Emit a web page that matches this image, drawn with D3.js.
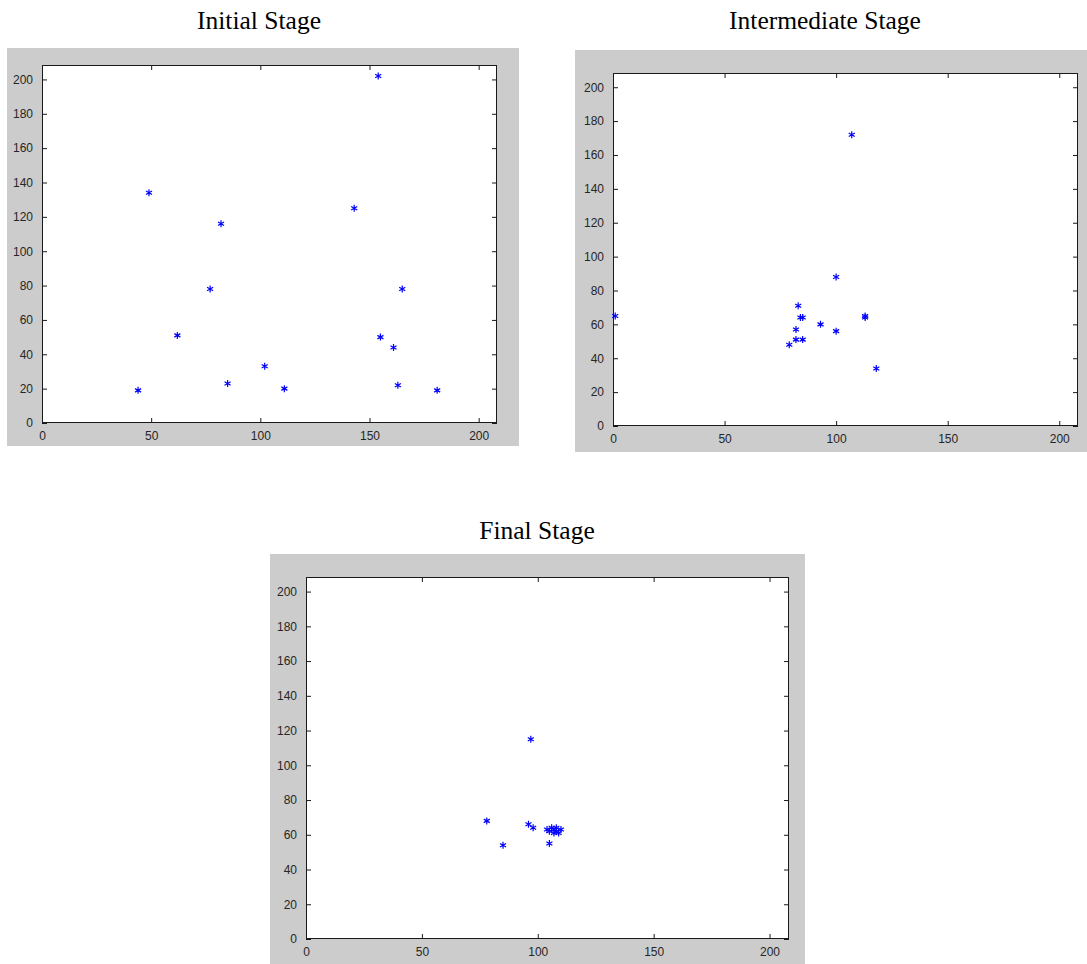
<!DOCTYPE html>
<html>
<head>
<meta charset="utf-8">
<script src="https://cdn.jsdelivr.net/npm/d3@7"></script>
<style>
  html, body { margin: 0; padding: 0; background: #ffffff; }
  svg { display: block; }
</style>
</head>
<body>
<svg id="chart" width="1087" height="964"></svg>
<script>
// Particle positions at three stages of the swarm
const initialX = [44, 49, 62, 77, 82, 85, 102, 111, 143, 154, 155, 161, 165, 163, 181];
const initialY = [19, 134, 51, 78, 116, 23, 33, 20, 125, 202, 50, 44, 78, 22, 19];

const intermediateX = [1, 83, 84, 85, 82, 82, 85, 79, 93, 107, 100, 113, 113, 100, 118];
const intermediateY = [65, 71, 64, 64, 57, 51, 51, 48, 60, 172, 88, 64, 65, 56, 34];

const finalX = [97, 78, 85, 96, 98, 104, 105, 106, 107, 107, 108, 108, 109, 110, 105];
const finalY = [115, 68, 54, 66, 64, 63, 62, 64, 63, 61, 64, 62, 61, 63, 55];

const titles = ["Initial Stage", "Intermediate Stage", "Final Stage"];
const xTicks = [0, 50, 100, 150, 200];
const yTicks = [0, 20, 40, 60, 80, 100, 120, 140, 160, 180, 200];
const axisMax = 208.4;

const panels = [
  { title: titles[0], xs: initialX, ys: initialY,
    frame: [7, 48, 512, 398], plot: [42, 65, 455, 358], titleX: 259, titleY: 29 },
  { title: titles[1], xs: intermediateX, ys: intermediateY,
    frame: [575, 50, 512, 402], plot: [613, 73, 465, 353], titleX: 825, titleY: 29 },
  { title: titles[2], xs: finalX, ys: finalY,
    frame: [270, 554, 535, 410], plot: [306, 577, 483, 362], titleX: 537, titleY: 539 }
];

// six-armed asterisk, like the classic "*" plot marker
const asterisk = {
  draw(ctx, size) {
    const r = Math.sqrt(size) / 2;
    const t = r / 2, u = t * Math.sqrt(3);
    ctx.moveTo(0, r); ctx.lineTo(0, -r);
    ctx.moveTo(-u, -t); ctx.lineTo(u, t);
    ctx.moveTo(-u, t); ctx.lineTo(u, -t);
  }
};

const svg = d3.select("#chart");

panels.forEach(p => {
  const [fx, fy, fw, fh] = p.frame;
  const [px, py, pw, ph] = p.plot;

  svg.append("rect")
    .attr("x", fx).attr("y", fy).attr("width", fw).attr("height", fh)
    .attr("fill", "#cccccc");

  svg.append("text")
    .attr("x", p.titleX).attr("y", p.titleY)
    .attr("text-anchor", "middle")
    .attr("font-family", "'Liberation Serif', 'Times New Roman', serif")
    .attr("font-size", 25.5)
    .attr("fill", "#000")
    .text(p.title);

  const x = d3.scaleLinear().domain([0, axisMax]).range([px, px + pw]);
  const y = d3.scaleLinear().domain([0, axisMax]).range([py + ph, py]);

  const g = svg.append("g");

  g.append("rect")
    .attr("x", px).attr("y", py).attr("width", pw).attr("height", ph)
    .attr("fill", "#ffffff");

  const font = "'Liberation Sans', Arial, Helvetica, sans-serif";
  const styleAxis = sel => {
    sel.selectAll("path.domain").remove();
    sel.selectAll("line").attr("stroke", "#1a1a1a").attr("stroke-width", 1);
    sel.selectAll("text")
      .attr("font-family", font).attr("font-size", 12).attr("fill", "#262626");
  };

  // inward ticks on all four sides, labels only on bottom and left
  g.append("g").attr("transform", `translate(0,${py + ph})`)
    .call(d3.axisBottom(x).tickValues(xTicks).tickSizeInner(-5).tickSizeOuter(0).tickPadding(8))
    .call(styleAxis);
  g.append("g").attr("transform", `translate(0,${py})`)
    .call(d3.axisTop(x).tickValues(xTicks).tickSizeInner(-5).tickSizeOuter(0).tickFormat(""))
    .call(styleAxis);
  g.append("g").attr("transform", `translate(${px},0)`)
    .call(d3.axisLeft(y).tickValues(yTicks).tickSizeInner(-5).tickSizeOuter(0).tickPadding(9))
    .call(styleAxis);
  g.append("g").attr("transform", `translate(${px + pw},0)`)
    .call(d3.axisRight(y).tickValues(yTicks).tickSizeInner(-5).tickSizeOuter(0).tickFormat(""))
    .call(styleAxis);

  g.append("rect")
    .attr("x", px + 0.5).attr("y", py + 0.5).attr("width", pw - 1).attr("height", ph - 1)
    .attr("fill", "none").attr("stroke", "#1a1a1a").attr("stroke-width", 1);

  const pts = p.xs.map((v, i) => [v, p.ys[i]]);
  const sym = d3.symbol().type(asterisk).size(49);
  g.append("g").selectAll("path").data(pts).join("path")
    .attr("transform", d => `translate(${x(d[0])},${y(d[1])})`)
    .attr("d", sym)
    .attr("fill", "none")
    .attr("stroke", "#0000ff")
    .attr("stroke-width", 1.2);
});
</script>
</body>
</html>
